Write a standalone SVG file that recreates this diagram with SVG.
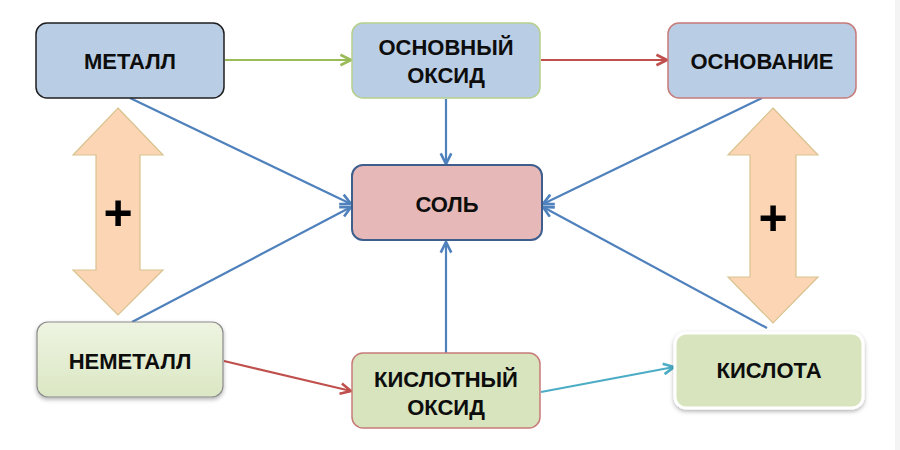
<svg xmlns="http://www.w3.org/2000/svg" width="900" height="450" viewBox="0 0 900 450">
  <defs>
    <style>
      .lbl { font-family: "Liberation Sans", Arial, sans-serif; font-weight: bold; font-size: 22px; fill: #0d0d0d; text-anchor: middle; }
      .plus { font-family: "Liberation Sans", Arial, sans-serif; font-weight: bold; font-size: 50px; fill: #000; text-anchor: middle; }
      .con { fill: none; stroke-width: 2.2; }
      .blue { stroke: #4f81bd; }
      .green { stroke: #9bbb59; }
      .red { stroke: #c0504d; }
      .teal { stroke: #4bacc6; }
      .dbl { fill: #fcd5b5; stroke: #d8c38f; stroke-width: 1.2; }
    </style>
    <marker id="mb" viewBox="0 0 10 10" refX="9" refY="5" markerWidth="6" markerHeight="6" orient="auto" markerUnits="strokeWidth">
      <path d="M1,1 L9,5 L1,9" fill="none" stroke="#4f81bd" stroke-width="2"/>
    </marker>
    <marker id="mg" viewBox="0 0 10 10" refX="9" refY="5" markerWidth="6" markerHeight="6" orient="auto" markerUnits="strokeWidth">
      <path d="M1,1 L9,5 L1,9" fill="none" stroke="#9bbb59" stroke-width="2"/>
    </marker>
    <marker id="mr" viewBox="0 0 10 10" refX="9" refY="5" markerWidth="6" markerHeight="6" orient="auto" markerUnits="strokeWidth">
      <path d="M1,1 L9,5 L1,9" fill="none" stroke="#c0504d" stroke-width="2"/>
    </marker>
    <marker id="mt" viewBox="0 0 10 10" refX="9" refY="5" markerWidth="6" markerHeight="6" orient="auto" markerUnits="strokeWidth">
      <path d="M1,1 L9,5 L1,9" fill="none" stroke="#4bacc6" stroke-width="2"/>
    </marker>
    <linearGradient id="gGreen" x1="0" y1="0" x2="0" y2="1">
      <stop offset="0" stop-color="#eef4e1"/>
      <stop offset="1" stop-color="#dbe7c4"/>
    </linearGradient>
    <filter id="sh" x="-10%" y="-10%" width="120%" height="130%">
      <feDropShadow dx="0" dy="2" stdDeviation="2" flood-color="#000" flood-opacity="0.3"/>
    </filter>
  </defs>
  <rect x="0" y="0" width="900" height="450" fill="#ffffff"/>
  <rect x="895" y="0" width="5" height="450" fill="#f4f4f4"/>

  <g id="plus-arrows">
    <path class="dbl" d="M118,108 L163,155 L140,155 L140,270 L163,270 L118,315 L73,270 L96,270 L96,155 L73,155 Z"/>
    <text class="plus" x="118" y="230">+</text>
    <path class="dbl" d="M773,108 L818,155 L796,155 L796,277 L818,277 L773,323 L728,277 L750,277 L750,155 L728,155 Z"/>
    <text class="plus" x="773" y="235">+</text>
  </g>

  <g id="connectors">
    <line class="con green" x1="225" y1="60" x2="351" y2="60" marker-end="url(#mg)"/>
    <line class="con red" x1="541" y1="60" x2="667" y2="60" marker-end="url(#mr)"/>
    <line class="con blue" x1="446" y1="99" x2="446" y2="164" marker-end="url(#mb)"/>
    <line class="con blue" x1="130" y1="98" x2="351" y2="204" marker-end="url(#mb)"/>
    <line class="con blue" x1="762" y1="98" x2="543" y2="204" marker-end="url(#mb)"/>
    <line class="con blue" x1="132" y1="322" x2="351" y2="207" marker-end="url(#mb)"/>
    <line class="con blue" x1="767" y1="328" x2="543" y2="207" marker-end="url(#mb)"/>
    <line class="con blue" x1="446" y1="353" x2="446" y2="242" marker-end="url(#mb)"/>
    <line class="con red" x1="224" y1="361" x2="351" y2="391" marker-end="url(#mr)"/>
    <line class="con teal" x1="541" y1="392" x2="674" y2="367" marker-end="url(#mt)"/>
  </g>

  <g id="metall">
    <rect x="36" y="23" width="188" height="75" rx="11" fill="#b9cde5" stroke="#1f1f1f" stroke-width="1.5"/>
    <text class="lbl" x="130" y="69">МЕТАЛЛ</text>
  </g>
  <g id="osnovny-oksid">
    <rect x="352" y="23" width="188" height="75" rx="11" fill="#b9cde5" stroke="#b5cf8d" stroke-width="1.5"/>
    <text class="lbl" x="446" y="55">ОСНОВНЫЙ</text>
    <text class="lbl" x="446" y="83">ОКСИД</text>
  </g>
  <g id="osnovanie">
    <rect x="668" y="23" width="188" height="75" rx="11" fill="#b9cde5" stroke="#c77b79" stroke-width="1.5"/>
    <text class="lbl" x="762" y="69">ОСНОВАНИЕ</text>
  </g>
  <g id="sol">
    <rect x="352" y="165" width="190" height="75" rx="11" fill="#e6b9b8" stroke="#3e5f8e" stroke-width="2"/>
    <text class="lbl" x="447" y="212">СОЛЬ</text>
  </g>
  <g id="nemetall">
    <rect x="37" y="322" width="186" height="75" rx="11" fill="url(#gGreen)" stroke="#8c8c8c" stroke-width="1.2" filter="url(#sh)"/>
    <text class="lbl" x="130" y="369">НЕМЕТАЛЛ</text>
  </g>
  <g id="kislotny-oksid">
    <rect x="352" y="353" width="188" height="75" rx="11" fill="#d7e4bd" stroke="#c77b79" stroke-width="1.5"/>
    <text class="lbl" x="446" y="387">КИСЛОТНЫЙ</text>
    <text class="lbl" x="446" y="415">ОКСИД</text>
  </g>
  <g id="kislota">
    <rect x="675" y="333" width="188" height="75" rx="11" fill="#d7e4bd" stroke="#ffffff" stroke-width="3" filter="url(#sh)"/>
    <text class="lbl" x="769" y="378">КИСЛОТА</text>
  </g>
</svg>
